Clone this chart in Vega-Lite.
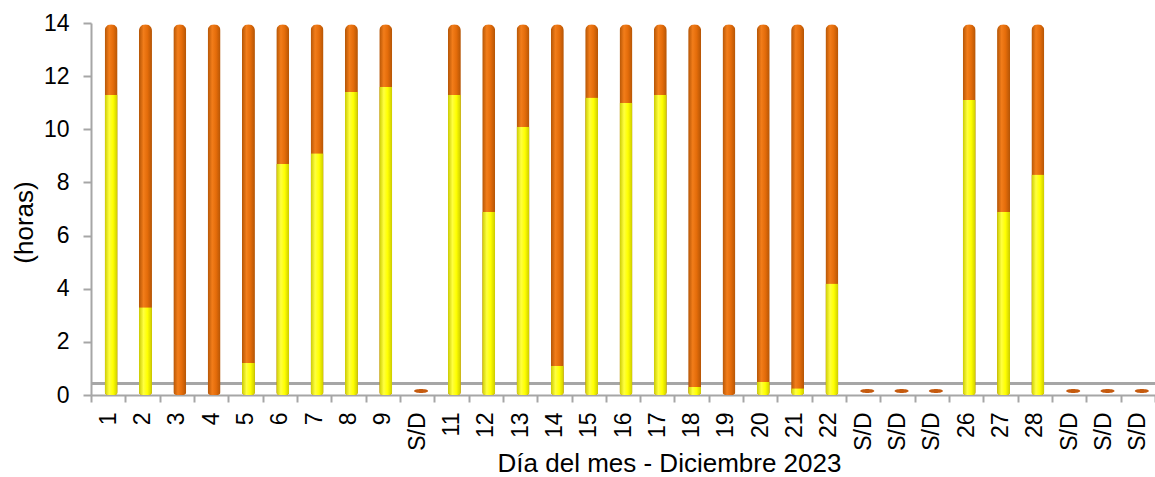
{
  "$schema": "https://vega.github.io/schema/vega-lite/v6.json",
  "width": 1064,
  "height": 372,
  "autosize": {"type": "none"},
  "padding": {"left": 91, "top": 23, "right": 0, "bottom": 82},
  "background": "white",
  "config": {"view": {"stroke": null}, "font": "Liberation Sans"},
  "data": {"values": [
    {"dia": 1, "sol": 11.3, "total": 13.95},
    {"dia": 2, "sol": 3.3, "total": 13.95},
    {"dia": 3, "sol": 0, "total": 13.95},
    {"dia": 4, "sol": 0, "total": 13.95},
    {"dia": 5, "sol": 1.2, "total": 13.95},
    {"dia": 6, "sol": 8.7, "total": 13.95},
    {"dia": 7, "sol": 9.1, "total": 13.95},
    {"dia": 8, "sol": 11.4, "total": 13.95},
    {"dia": 9, "sol": 11.6, "total": 13.95},
    {"dia": 10, "sol": null, "total": null},
    {"dia": 11, "sol": 11.3, "total": 13.95},
    {"dia": 12, "sol": 6.9, "total": 13.95},
    {"dia": 13, "sol": 10.1, "total": 13.95},
    {"dia": 14, "sol": 1.1, "total": 13.95},
    {"dia": 15, "sol": 11.2, "total": 13.95},
    {"dia": 16, "sol": 11.0, "total": 13.95},
    {"dia": 17, "sol": 11.3, "total": 13.95},
    {"dia": 18, "sol": 0.3, "total": 13.95},
    {"dia": 19, "sol": 0, "total": 13.95},
    {"dia": 20, "sol": 0.5, "total": 13.95},
    {"dia": 21, "sol": 0.25, "total": 13.95},
    {"dia": 22, "sol": 4.2, "total": 13.95},
    {"dia": 23, "sol": null, "total": null},
    {"dia": 24, "sol": null, "total": null},
    {"dia": 25, "sol": null, "total": null},
    {"dia": 26, "sol": 11.1, "total": 13.95},
    {"dia": 27, "sol": 6.9, "total": 13.95},
    {"dia": 28, "sol": 8.3, "total": 13.95},
    {"dia": 29, "sol": null, "total": null},
    {"dia": 30, "sol": null, "total": null},
    {"dia": 31, "sol": null, "total": null}
  ]},
  "layer": [
    {
      "mark": {"type": "rule", "color": "#A6A6A6", "strokeWidth": 2},
      "encoding": {"y": {"datum": 0.43, "type": "quantitative", "scale": {"domain": [0, 14]}}}
    },
    {
      "transform": [{"filter": "isValid(datum.total)"}],
      "mark": {
        "type": "bar",
        "width": 13,
        "xOffset": 3,
        "cornerRadiusTopLeft": 6.5,
        "cornerRadiusTopRight": 6.5,
        "cornerRadiusBottomLeft": 3,
        "cornerRadiusBottomRight": 3,
        "color": {"gradient": "linear", "x1": 0, "x2": 1, "y1": 0, "y2": 0,
          "stops": [{"offset": 0, "color": "#B35405"}, {"offset": 0.35, "color": "#F27D1A"}, {"offset": 0.65, "color": "#E46C0A"}, {"offset": 1, "color": "#B35405"}]}
      },
      "encoding": {
        "x": {
          "field": "dia",
          "type": "ordinal",
          "scale": {"domain": [1,2,3,4,5,6,7,8,9,10,11,12,13,14,15,16,17,18,19,20,21,22,23,24,25,26,27,28,29,30,31], "paddingInner": 0, "paddingOuter": 0},
          "axis": {
            "title": "Día del mes - Diciembre 2023",
            "titleFontSize": 26,
            "titleFontWeight": "normal",
            "titleColor": "#000000",
            "titleX": 578,
            "titleY": 81,
            "titleBaseline": "bottom",
            "titleAnchor": "middle",
            "titleAlign": "center",
            "labelAngle": -90,
            "labelFontSize": 23,
            "labelColor": "#000000",
            "labelPadding": 10,
            "labelExpr": "(datum.value == 10 || (datum.value >= 23 && datum.value <= 25) || datum.value >= 29) ? 'S/D' : datum.value",
            "tickBand": "extent",
            "tickSize": 7,
            "tickColor": "#A6A6A6",
            "tickWidth": 2,
            "domainColor": "#A6A6A6",
            "domainWidth": 2
          }
        },
        "y": {
          "field": "total",
          "type": "quantitative",
          "scale": {"domain": [0, 14]},
          "axis": {
            "values": [0, 2, 4, 6, 8, 10, 12, 14],
            "grid": false,
            "title": "(horas)",
            "titleFontSize": 26,
            "titleFontWeight": "normal",
            "titleColor": "#000000",
            "titleX": -54,
            "titleY": 199,
            "titleAngle": -90,
            "titleBaseline": "bottom",
            "titleAlign": "center",
            "labelFontSize": 23,
            "labelColor": "#000000",
            "labelPadding": 14,
            "tickSize": 8,
            "tickColor": "#A6A6A6",
            "tickWidth": 2,
            "domainColor": "#A6A6A6",
            "domainWidth": 2
          }
        }
      }
    },
    {
      "transform": [{"filter": "isValid(datum.sol) && datum.sol > 0"}],
      "mark": {
        "type": "bar",
        "width": 13,
        "xOffset": 3,
        "cornerRadiusBottomLeft": 3,
        "cornerRadiusBottomRight": 3,
        "color": {"gradient": "linear", "x1": 0, "x2": 1, "y1": 0, "y2": 0,
          "stops": [{"offset": 0, "color": "#C9C900"}, {"offset": 0.35, "color": "#FFFF40"}, {"offset": 0.65, "color": "#FFFF00"}, {"offset": 1, "color": "#C9C900"}]}
      },
      "encoding": {
        "x": {"field": "dia", "type": "ordinal"},
        "y": {"field": "sol", "type": "quantitative"}
      }
    },
    {
      "transform": [{"filter": "!isValid(datum.total)"}],
      "mark": {
        "type": "point",
        "filled": true,
        "shape": "M -1 0 A 1 0.28 0 1 0 1 0 A 1 0.28 0 1 0 -1 0 Z",
        "size": 196,
        "opacity": 1,
        "xOffset": 4,
        "color": "#C55A0E"
      },
      "encoding": {
        "x": {"field": "dia", "type": "ordinal"},
        "y": {"datum": 0.15, "type": "quantitative"}
      }
    }
  ]
}
